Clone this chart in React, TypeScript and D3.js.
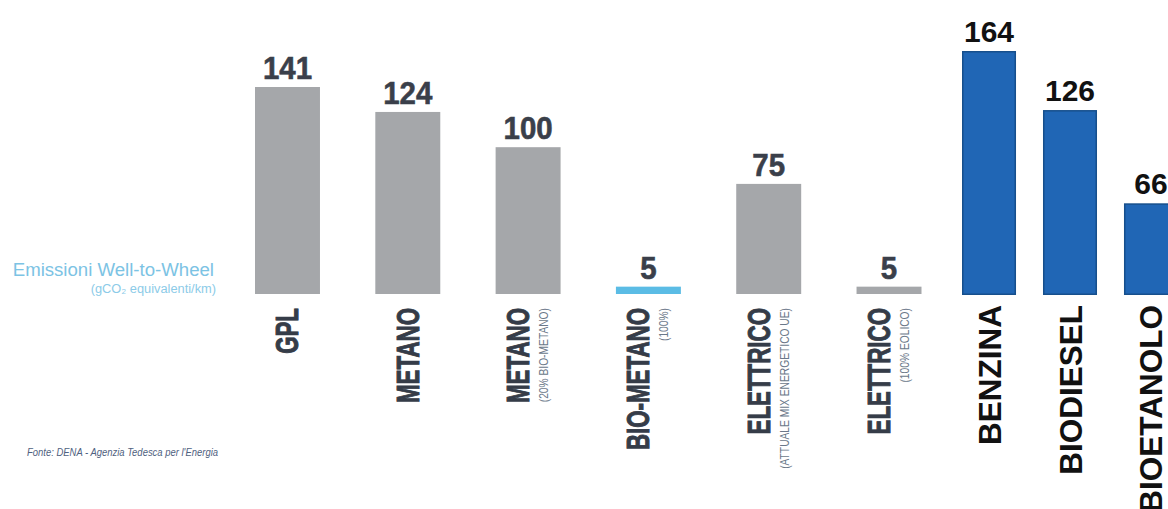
import React from "react";
import * as d3 from "d3";

const grayCategories = ["GPL", "METANO", "METANO", "BIO-METANO", "ELETTRICO", "ELETTRICO"];
const graySubtitles = ["", "", "(20% BIO-METANO)", "(100%)", "(ATTUALE MIX ENERGETICO UE)", "(100% EOLICO)"];
const grayValues = [141, 124, 100, 5, 75, 5];
const grayHighlight = [false, false, false, true, false, false];

const blueCategories = ["BENZINA", "BIODIESEL", "BIOETANOLO"];
const blueValues = [164, 126, 66];

const titleLine1 = "Emissioni Well-to-Wheel";
const titleLine2 = "(gCO\u2082 equivalenti/km)";
const sourceNote = "Fonte: DENA - Agenzia Tedesca per l'Energia";

const W = 1168;
const H = 509;

export default function App() {
  const grayIdx = grayCategories.map((_, i) => String(i));
  const xGray = d3.scaleBand<string>().domain(grayIdx).range([255, 921.5]).paddingInner(0.46).paddingOuter(0);
  const yGray = d3.scaleLinear().domain([0, 141]).range([294, 87]);

  const blueIdx = blueCategories.map((_, i) => String(i));
  const xBlue = d3.scaleBand<string>().domain(blueIdx).range([962, 1178]).paddingInner(0.333).paddingOuter(0);
  const yBlue = d3.scaleLinear().domain([7, 164]).range([295, 51]);

  const sans = "'Liberation Sans', Arial, sans-serif";
  const labelTop = 308;

  return (
    <svg width={W} height={H} style={{ position: "absolute", left: 0, top: 0, background: "#fff" }}>
      <rect x={0} y={0} width={W} height={H} fill="#fff" />
      {/* left title */}
      <text transform="translate(214,276) scale(0.98,1)" textAnchor="end" fontFamily={sans} fontSize={19} fill="#7cc3e4">
        {titleLine1}
      </text>
      <text transform="translate(216,293) scale(0.95,1)" textAnchor="end" fontFamily={sans} fontSize={13.5} fill="#8ccbe8">
        {titleLine2}
      </text>
      <text transform="translate(218,456) scale(0.86,1)" textAnchor="end" fontFamily={sans} fontStyle="italic" fontSize={11} fill="#4f6180">
        {sourceNote}
      </text>

      {/* gray bars */}
      {grayValues.map((v, i) => {
        const x = xGray(String(i))!;
        const bw = xGray.bandwidth();
        const cx = x + bw / 2;
        const hasSub = graySubtitles[i] !== "";
        const mainBase = hasSub ? cx + 1 : cx + 11;
        return (
          <g key={"g" + i}>
            <rect x={x} y={yGray(v)} width={bw} height={yGray(0) - yGray(v)} fill={grayHighlight[i] ? "#5bbce5" : "#a5a7aa"} />
            <text
              transform={`translate(${cx},${yGray(v) - 8}) scale(0.95,1)`}
              textAnchor="middle"
              fontFamily={sans}
              fontWeight="bold"
              fontSize={31}
              fill="#3a3f4a"
              stroke="#3a3f4a"
              strokeWidth={0.6}
            >
              {v}
            </text>
            <text
              transform={`translate(${mainBase},${labelTop}) rotate(-90) scale(0.72,1)`}
              textAnchor="end"
              fontFamily={sans}
              fontWeight="bold"
              fontSize={31}
              fill="#353c48"
              stroke="#353c48"
              strokeWidth={1}
            >
              {grayCategories[i]}
            </text>
            {hasSub && (
              <text
                transform={`translate(${cx + 20},${labelTop}) rotate(-90) scale(0.82,1)`}
                textAnchor="end"
                fontFamily={sans}
                fontSize={12.5}
                fill="#6b7889"
              >
                {graySubtitles[i]}
              </text>
            )}
          </g>
        );
      })}

      {/* blue bars */}
      {blueValues.map((v, i) => {
        const x = xBlue(String(i))!;
        const bw = xBlue.bandwidth();
        const cx = x + bw / 2;
        return (
          <g key={"b" + i}>
            <rect
              x={x + 0.75}
              y={yBlue(v) + 0.75}
              width={bw - 1.5}
              height={yBlue.range()[0] - yBlue(v) - 1.5}
              fill="#2066b5"
              stroke="#164f8c"
              strokeWidth={1.5}
            />
            <text x={cx} y={yBlue(v) - 9} textAnchor="middle" fontFamily={sans} fontWeight="bold" fontSize={30} fill="#111">
              {v}
            </text>
            <text
              transform={`translate(${cx + 11.5},${labelTop - 3}) rotate(-90)`}
              textAnchor="end"
              fontFamily={sans}
              fontWeight="bold"
              fontSize={31.5}
              fill="#111"
            >
              {blueCategories[i]}
            </text>
          </g>
        );
      })}
    </svg>
  );
}
